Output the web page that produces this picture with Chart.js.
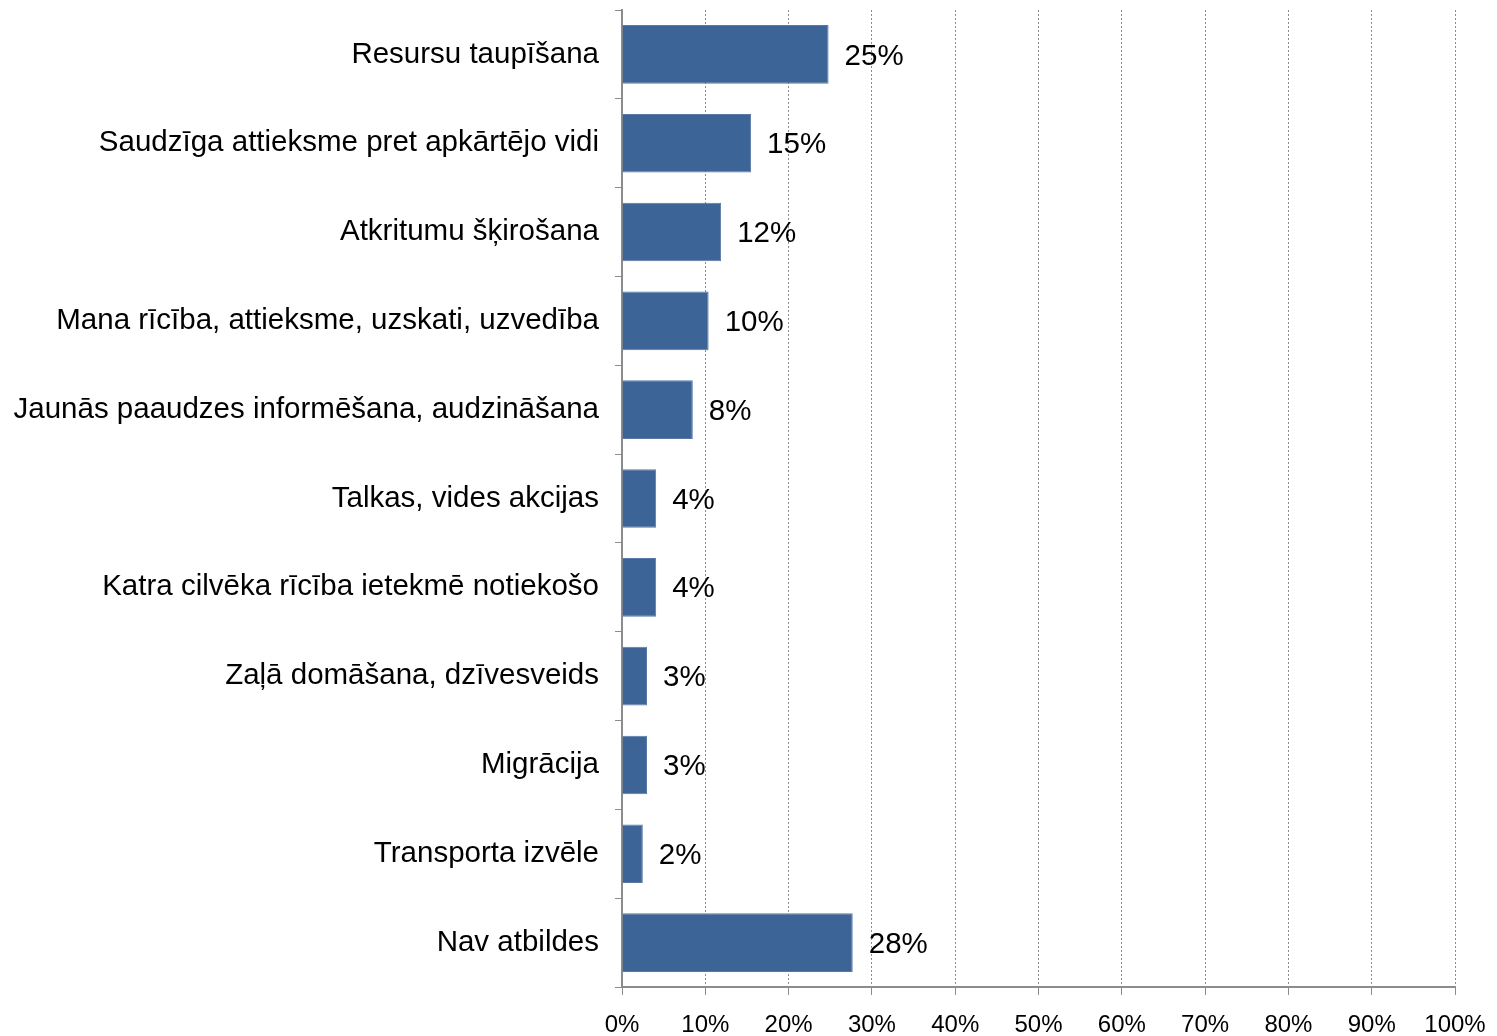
<!DOCTYPE html>
<html>
<head>
<meta charset="utf-8">
<script src="https://cdn.jsdelivr.net/npm/chart.js@4"></script>
<style>
  html, body { margin: 0; padding: 0; background: #fff; }
  #wrap { width: 1497px; height: 1036px; }
</style>
</head>
<body>
<div id="wrap"><canvas id="chart"></canvas></div>
<script>
const categories = [
    'Resursu taupīšana',
    'Saudzīga attieksme pret apkārtējo vidi',
    'Atkritumu šķirošana',
    'Mana rīcība, attieksme, uzskati, uzvedība',
    'Jaunās paaudzes informēšana, audzināšana',
    'Talkas, vides akcijas',
    'Katra cilvēka rīcība ietekmē notiekošo',
    'Zaļā domāšana, dzīvesveids',
    'Migrācija',
    'Transporta izvēle',
    'Nav atbildes'
];
const shares = [24.8, 15.5, 11.9, 10.4, 8.5, 4.1, 4.1, 3.0, 3.0, 2.5, 27.7];
const shareLabels = ['25%', '15%', '12%', '10%', '8%', '4%', '4%', '3%', '3%', '2%', '28%'];
const xTicks = [0, 10, 20, 30, 40, 50, 60, 70, 80, 90, 100];

// value labels to the right of each bar
const valueLabels = {
    id: 'valueLabels',
    afterDatasetsDraw(chart) {
        const ctx = chart.ctx;
        const meta = chart.getDatasetMeta(0);
        ctx.save();
        ctx.font = '29.5px "Liberation Sans", Arial, sans-serif';
        ctx.fillStyle = '#000';
        ctx.textAlign = 'left';
        ctx.textBaseline = 'middle';
        meta.data.forEach((bar, i) => {
            ctx.fillText(shareLabels[i], bar.x + 16, bar.y + 2);
        });
        ctx.restore();
    }
};

Chart.defaults.font.family = '"Liberation Sans", Arial, sans-serif';
Chart.defaults.color = '#000';

new Chart(document.getElementById('chart'), {
    type: 'bar',
    data: {
        labels: categories,
        datasets: [{
            data: shares,
            backgroundColor: '#3C6496',
            borderColor: '#5a7aa6',
            borderWidth: 1,
            barPercentage: 0.66,
            categoryPercentage: 1
        }]
    },
    options: {
        indexAxis: 'y',
        responsive: true,
        maintainAspectRatio: false,
        animation: false,
        layout: { padding: { top: 10, right: 42, left: 0, bottom: 0 } },
        plugins: {
            legend: { display: false },
            tooltip: { enabled: false }
        },
        scales: {
            x: {
                min: 0,
                max: 100,
                afterBuildTicks(scale) {
                    scale.ticks = xTicks.map(v => ({ value: v }));
                },
                afterFit(scale) {
                    scale.height = 49;
                    scale.paddingLeft = 0;
                    scale.paddingRight = 0;
                },
                ticks: {
                    font: { size: 24 },
                    padding: 16,
                    callback: v => v + '%'
                },
                grid: {
                    color: '#8c8c8c',
                    lineWidth: 1,
                    tickLength: 8,
                    tickBorderDash: [],
                    tickColor: '#8c8c8c'
                },
                border: { display: true, color: '#8c8c8c', width: 2, dash: [2, 2] }
            },
            y: {
                afterFit(scale) {
                    scale.width = 622;
                    scale.paddingTop = 0;
                    scale.paddingBottom = 0;
                },
                ticks: {
                    font: { size: 29.5 },
                    padding: 16
                },
                grid: {
                    offset: true,
                    drawOnChartArea: false,
                    tickLength: 7,
                    color: '#8c8c8c'
                },
                border: { display: true, color: '#8c8c8c', width: 2 }
            }
        }
    },
    plugins: [valueLabels]
});
</script>
</body>
</html>
